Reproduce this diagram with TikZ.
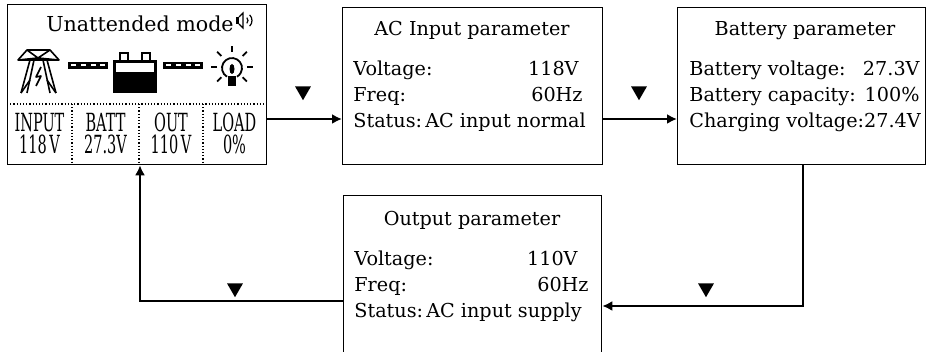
\documentclass[tikz,border=0pt]{standalone}
\usepackage{fontspec}
\setmainfont{DejaVu Serif}
\usetikzlibrary{shapes.geometric,arrows.meta}

\begin{document}
\begin{tikzpicture}
  [x=0.5pt,y=-0.5pt,
   box/.style={draw,line width=0.65pt,inner sep=0pt,anchor=north west},
   ttl/.style={inner sep=0pt,anchor=base,font=\fontsize{9.6}{11}\selectfont},
   txt/.style={inner sep=0pt,anchor=base west,font=\fontsize{9.6}{11}\selectfont},
   val/.style={inner sep=0pt,anchor=base east,font=\fontsize{9.6}{11}\selectfont},
   lcd/.style={inner sep=0pt,anchor=base,font=\fontsize{12.5}{12}\selectfont},
   tri/.style={regular polygon,regular polygon sides=3,shape border rotate=180,
     fill,inner sep=0pt,minimum size=9.2pt},
   link/.style={line width=1pt,-{Latex[length=5pt,width=5pt]}}]
  \clip (0,0) rectangle (927,352);

  % boxes
  \node[box,minimum width=129.5pt,minimum height=80pt] (lcdbox) at (7,4) {};
  \node[box,minimum width=130pt,minimum height=78.5pt] (acin) at (342,7) {};
  \node[box,minimum width=124pt,minimum height=78.5pt] (batt) at (677,7) {};
  \node[box,minimum width=129pt,minimum height=82pt] (outp) at (343,195) {};

  % lcd screen
  \node[inner sep=0pt,anchor=base,font=\fontsize{10.3}{12}\selectfont] (mode) at (140,32) {Unattended mode};
  \draw[densely dotted,line width=0.6pt] (7,104) -- (266,104);
  \foreach \x in {72,139,203}
    \draw[densely dotted,line width=0.6pt] (\x,104) -- (\x,164);
  \node[lcd] (in1) at (39.5,132) {\scalebox{0.58}[1]{INPUT}};
  \node[lcd] (in2) at (39.5,154) {\scalebox{0.58}[1]{118\,V}};
  \node[lcd] (bt1) at (105.5,132) {\scalebox{0.58}[1]{BATT}};
  \node[lcd] (bt2) at (105.5,154) {\scalebox{0.58}[1]{27.3V}};
  \node[lcd] (ou1) at (171,132) {\scalebox{0.58}[1]{OUT}};
  \node[lcd] (ou2) at (171,154) {\scalebox{0.58}[1]{110\,V}};
  \node[lcd] (ld1) at (234.5,132) {\scalebox{0.58}[1]{LOAD}};
  \node[lcd] (ld2) at (234.5,154) {\scalebox{0.58}[1]{0\%}};

  % speaker
  \fill (236,17) rectangle (239,24);
  \draw[line width=0.6pt] (239,17) -- (243,13) -- (243,28) -- (239,24);
  \draw[line width=0.6pt] (244,20.5) ++(-45:4) arc (-45:45:4);
  \draw[line width=0.6pt] (244,20.5) ++(-45:8) arc (-45:45:8);
  % tower
  \begin{scope}[line width=0.8pt,line join=round]
    \draw (18,60) -- (27,50) -- (50,50) -- (59,60) -- cycle;
    \draw (27,50) -- (38,58) -- (50,50) (18,60) -- (38,58) -- (59,60);
    \draw (30,60) -- (21,93) (34,60) -- (27,93);
    \draw (47,60) -- (56,93) (43,60) -- (50,93);
    \draw (21,93) -- (30,80) (56,93) -- (47,80);
    \draw (41,67) -- (36,77) -- (41,76) -- (36,86);
  \end{scope}
  % lines and battery
  \foreach \x in {68,163} {
    \fill (\x,62) rectangle (\x+40,69);
    \foreach \d in {3,13,23,32}
      \fill[white] (\x+\d,64.5) rectangle (\x+\d+5,66.5);
  }
  \draw[line width=0.8pt] (120,60) -- (120,53) -- (128,53) -- (128,60)
    (142,60) -- (142,53) -- (150,53) -- (150,60);
  \fill (113,60) rectangle (157,93);
  \fill[white] (116,63) rectangle (154,72);
  % bulb
  \begin{scope}[line width=0.9pt]
    \draw (227,76.7) arc (120:420:10);
    \fill (228,76) rectangle (236,86);
    \fill (232,69) ellipse (2.5 and 5);
    \foreach \a in {0,45,135,180,225,270,315} {
      \draw (232,66.7) ++(\a:15) -- ++(\a:6);
    }
  \end{scope}

  % ac input
  \node[ttl] (acint) at (472,36) {AC Input parameter};
  \node[txt] (acinv) at (353,76) {Voltage:};
  \node[val] (acinvv) at (579,76) {118V};
  \node[txt] (acinf) at (353,102) {Freq:};
  \node[val] (acinfv) at (583,102) {60Hz};
  \node[txt] (acins) at (353,128) {Status:\,AC input normal};

  % battery
  \node[ttl] (battt) at (805,36) {Battery parameter};
  \node[txt] (battv) at (689,76) {Battery voltage:};
  \node[val] (battvv) at (920,76) {27.3V};
  \node[txt] (battc) at (689,102) {Battery capacity:};
  \node[val] (battcv) at (920,102) {100\%};
  \node[txt] (battg) at (689,128) {Charging voltage:27.4V};

  % output
  \node[ttl] (outpt) at (472,226) {Output parameter};
  \node[txt] (outpv) at (354,266) {Voltage:};
  \node[val] (outpvv) at (578,266) {110V};
  \node[txt] (outpf) at (354,292) {Freq:};
  \node[val] (outpfv) at (589,292) {60Hz};
  \node[txt] (outps) at (354,318) {Status:\,AC input supply};

  % connectors
  \coordinate (c1) at (0,119);
  \coordinate (c2) at (803,306);
  \coordinate (c3) at (140,301);
  \draw[link] (lcdbox.east |- c1) -- (acin.west |- c1);
  \draw[link] (acin.east |- c1) -- (batt.west |- c1);
  \draw[link] (batt.south -| c2) |- (outp.east |- c2);
  \draw[link] (outp.west |- c3) -| (lcdbox.south -| c3);

  \node[tri] (t1) at (303,91) {};
  \node[tri] (t2) at (639,91) {};
  \node[tri] (t3) at (235,288) {};
  \node[tri] (t4) at (706,288) {};
\end{tikzpicture}
\end{document}
